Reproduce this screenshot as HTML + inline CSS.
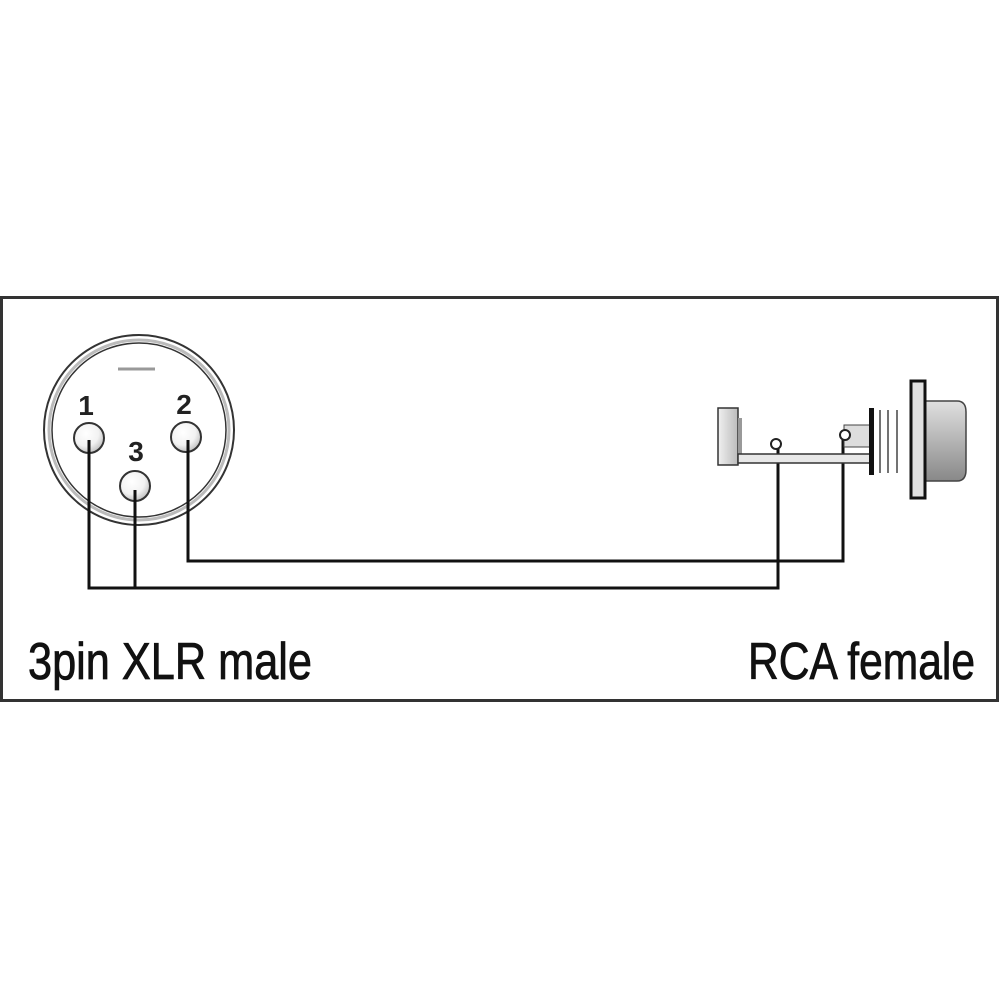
<!DOCTYPE html>
<html><head><meta charset="utf-8"><style>
html,body{margin:0;padding:0;background:#fff;width:1000px;height:1000px;overflow:hidden}
svg{display:block}
</style></head><body>
<svg width="1000" height="1000" viewBox="0 0 1000 1000" xmlns="http://www.w3.org/2000/svg">
<defs>
<radialGradient id="pin" cx="0.4" cy="0.35" r="0.7">
<stop offset="0" stop-color="#fff"/><stop offset="0.6" stop-color="#f2f2f2"/><stop offset="1" stop-color="#bbb"/>
</radialGradient>
<linearGradient id="body" x1="0" y1="0" x2="0" y2="1">
<stop offset="0" stop-color="#e0e0e0"/><stop offset="0.4" stop-color="#bdbdbd"/><stop offset="1" stop-color="#888"/>
</linearGradient>
<linearGradient id="blk" x1="0" y1="0" x2="1" y2="0">
<stop offset="0" stop-color="#f0f0f0"/><stop offset="1" stop-color="#bbb"/>
</linearGradient>
</defs>
<rect x="1.5" y="297.5" width="996" height="403" fill="#fff" stroke="#333" stroke-width="3"/>
<circle cx="139" cy="430" r="95" fill="#fff" stroke="#333" stroke-width="2"/>
<circle cx="139" cy="430" r="90" fill="none" stroke="#bbb" stroke-width="3"/>
<circle cx="139" cy="430" r="87" fill="none" stroke="#333" stroke-width="1.5"/>
<line x1="118" y1="369" x2="155" y2="369" stroke="#999" stroke-width="3"/>
<circle cx="89" cy="438" r="15" fill="url(#pin)" stroke="#333" stroke-width="2"/>
<circle cx="186" cy="437" r="15" fill="url(#pin)" stroke="#333" stroke-width="2"/>
<circle cx="135" cy="486" r="15" fill="url(#pin)" stroke="#333" stroke-width="2"/>
<g font-family="Liberation Sans, sans-serif" font-weight="bold" font-size="28" fill="#222" text-anchor="middle">
<text x="86" y="415">1</text>
<text x="184" y="414">2</text>
<text x="136" y="461">3</text>
</g>
<g fill="none" stroke="#111" stroke-width="3">
<polyline points="89,440 89,588 778,588 778,446"/>
<line x1="135" y1="490" x2="135" y2="588"/>
<polyline points="188,440 188,561 843,561 843,437"/>
</g>
<rect x="718" y="408" width="20" height="57" fill="url(#blk)" stroke="#333" stroke-width="1.5"/>
<rect x="738" y="418" width="4" height="40" fill="#999"/>
<rect x="738" y="454" width="134" height="9" fill="#e8e8e8" stroke="#333" stroke-width="1.5"/>
<circle cx="776" cy="444" r="5" fill="#fff" stroke="#222" stroke-width="2"/>
<rect x="844" y="425" width="28" height="22" fill="#ddd" stroke="#444" stroke-width="1"/>
<circle cx="845" cy="435" r="5" fill="#fff" stroke="#222" stroke-width="2"/>
<rect x="869" y="408" width="5" height="67" fill="#111"/>
<line x1="880" y1="410" x2="880" y2="473" stroke="#444" stroke-width="1.5"/>
<line x1="888" y1="410" x2="888" y2="473" stroke="#444" stroke-width="1.5"/>
<line x1="897" y1="410" x2="897" y2="473" stroke="#444" stroke-width="1.5"/>
<path d="M924 401 H957 Q966 401 966 412 V470 Q966 481 957 481 H924 Z" fill="url(#body)" stroke="#444" stroke-width="1.5"/>
<rect x="911" y="381" width="14" height="117" fill="#e0e0e0" stroke="#111" stroke-width="3"/>
<g font-family="Liberation Sans, sans-serif" font-size="52" fill="#111" stroke="#111" stroke-width="0.8">
<text x="28" y="679" textLength="284" lengthAdjust="spacingAndGlyphs">3pin XLR male</text>
<text x="748" y="679" textLength="227" lengthAdjust="spacingAndGlyphs">RCA female</text>
</g>
</svg>
</body></html>
